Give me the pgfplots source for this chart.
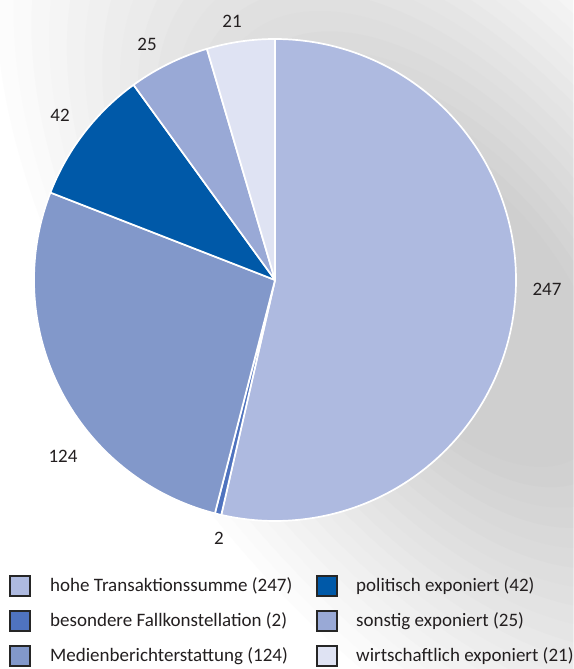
\documentclass[border=0pt]{standalone}
\usepackage{fontspec}
\setmainfont{Carlito}
\usepackage{pgfplots}
\pgfplotsset{compat=1.18}
\definecolor{cA}{HTML}{AEBAE0}
\definecolor{cB}{HTML}{4F73BF}
\definecolor{cC}{HTML}{8298CA}
\definecolor{cD}{HTML}{0059A8}
\definecolor{cE}{HTML}{99A9D6}
\definecolor{cF}{HTML}{DFE3F3}
\definecolor{txt}{HTML}{231F20}
\begin{document}
\begin{tikzpicture}[font=\fontsize{19}{22}\selectfont, text=txt]
% data
\pgfmathsetmacro{\vA}{247}
\pgfmathsetmacro{\vB}{2}
\pgfmathsetmacro{\vC}{124}
\pgfmathsetmacro{\vD}{42}
\pgfmathsetmacro{\vE}{25}
\pgfmathsetmacro{\vF}{21}
\pgfmathsetmacro{\tot}{\vA+\vB+\vC+\vD+\vE+\vF}
\pgfmathsetmacro{\aA}{90}
\pgfmathsetmacro{\aB}{\aA-360*(\vA/\tot)}
\pgfmathsetmacro{\aC}{\aB-360*(\vB/\tot)}
\pgfmathsetmacro{\aD}{\aC-360*(\vC/\tot)}
\pgfmathsetmacro{\aE}{\aD-360*(\vD/\tot)}
\pgfmathsetmacro{\aF}{\aE-360*(\vE/\tot)}
\pgfmathsetmacro{\aG}{\aF-360*(\vF/\tot)}
\begin{axis}[name=ax, x=1pt, y=1pt, xmin=0, xmax=573, ymin=0, ymax=669,
  hide axis, clip=false, samples=150, variable=\t,
  slice/.style={draw=white, line width=1.7pt, line join=round}]
\begin{scope}
\clip (axis cs:0,0) rectangle (axis cs:573,669);
\fill[white] (axis cs:0,0) rectangle (axis cs:573,669);
\pgfplotsinvokeforeach{1,...,19}{
  \fill[black!#1] (axis cs:460,369) ellipse [x radius={650pt-23.9pt*#1}, y radius={340pt-12.5pt*#1}, rotate=-52];
}
\end{scope}
\addplot[slice, fill=cA, domain=\aB:\aA] ({275+241*cos(\t)}, {389+241*sin(\t)}) -- (axis cs:275,389) -- cycle;
\addplot[slice, fill=cB, domain=\aC:\aB] ({275+241*cos(\t)}, {389+241*sin(\t)}) -- (axis cs:275,389) -- cycle;
\addplot[slice, fill=cC, domain=\aD:\aC] ({275+241*cos(\t)}, {389+241*sin(\t)}) -- (axis cs:275,389) -- cycle;
\addplot[slice, fill=cD, domain=\aE:\aD] ({275+241*cos(\t)}, {389+241*sin(\t)}) -- (axis cs:275,389) -- cycle;
\addplot[slice, fill=cE, domain=\aF:\aE] ({275+241*cos(\t)}, {389+241*sin(\t)}) -- (axis cs:275,389) -- cycle;
\addplot[slice, fill=cF, domain=\aG:\aF] ({275+241*cos(\t)}, {389+241*sin(\t)}) -- (axis cs:275,389) -- cycle;
% value labels
\node[inner sep=0pt] at (axis cs:232,648) {21};
\node[inner sep=0pt] at (axis cs:147,624.5) {25};
\node[inner sep=0pt] at (axis cs:60,554) {42};
\node[inner sep=0pt] at (axis cs:547,380) {247};
\node[inner sep=0pt] at (axis cs:63,213) {124};
\node[inner sep=0pt] at (axis cs:219,131) {2};
% legend
\tikzset{lsq/.style={draw=black!85, line width=2.3pt, minimum size=19.5pt, inner sep=0pt},
         ltx/.style={anchor=base west, inner sep=0pt}}
\node[lsq, fill=cA] at (axis cs:20,83) {};
\node[lsq, fill=cB] at (axis cs:20,48) {};
\node[lsq, fill=cC] at (axis cs:20,13) {};
\node[lsq, fill=cD] at (axis cs:327,83) {};
\node[lsq, fill=cE] at (axis cs:327,48) {};
\node[lsq, fill=cF] at (axis cs:327,13) {};
\node[ltx] at (axis cs:50,77.7) {hohe Transaktionssumme (247)};
\node[ltx] at (axis cs:50,42.5) {besondere Fallkonstellation (2)};
\node[ltx] at (axis cs:50,7.3) {Medienberichterstattung (124)};
\node[ltx] at (axis cs:356,77.7) {politisch exponiert (42)};
\node[ltx] at (axis cs:356,42.5) {sonstig exponiert (25)};
\node[ltx] at (axis cs:356,7.3) {wirtschaftlich exponiert (21)};
\end{axis}
\pgfresetboundingbox
\useasboundingbox (ax.south west) rectangle (ax.north east);
\end{tikzpicture}
\end{document}
